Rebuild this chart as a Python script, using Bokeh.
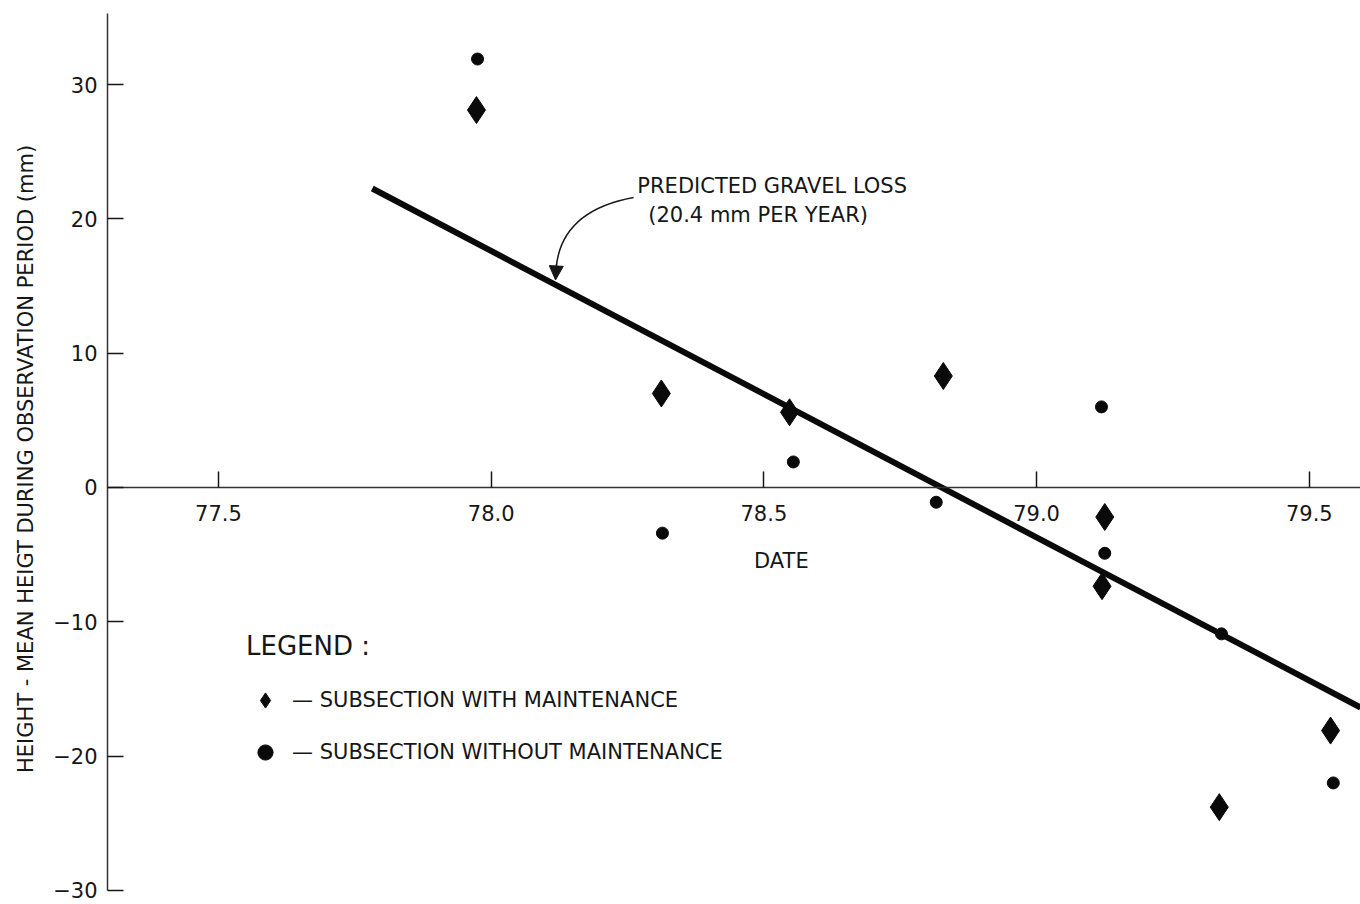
from bokeh.plotting import figure
from bokeh.models import (Range1d, FixedTicker, PrintfTickFormatter, Legend, LegendItem,
                          Label, Arrow, NormalHead)
from bokeh.embed import file_html
from bokeh.resources import INLINE

# ---- data ----
date_with = [77.973, 78.312, 78.547, 78.829, 79.125, 79.120, 79.335, 79.539]
height_with = [28.1, 7.0, 5.6, 8.3, -2.2, -7.35, -23.8, -18.1]

date_without = [77.975, 78.314, 78.554, 78.816, 79.119, 79.125, 79.339, 79.544]
height_without = [31.9, -3.4, 1.9, -1.1, 6.0, -4.9, -10.9, -22.0]

fit_date = [77.782, 79.594]
fit_height = [22.26, -16.38]

x_ticks = [77.5, 78.0, 78.5, 79.0, 79.5]
y_ticks = [-30, -20, -10, 0, 10, 20, 30]

FONT = "DejaVu Sans"
INK = "#161616"

p = figure(width=1360, height=904,
           x_range=Range1d(77.2965, 79.5939), y_range=Range1d(-31.05, 35.29),
           output_backend="svg", toolbar_location=None,
           min_border_left=107, min_border_right=0, min_border_top=13, min_border_bottom=0)
p.outline_line_color = None
p.xgrid.visible = False
p.ygrid.visible = False
p.background_fill_color = "white"
p.border_fill_color = "white"

# x axis drawn at y = 0
xa = p.xaxis[0]
xa.fixed_location = 0
xa.ticker = FixedTicker(ticks=x_ticks)
xa.formatter = PrintfTickFormatter(format="%.1f")
xa.minor_tick_line_color = None
xa.major_tick_in = 16
xa.major_tick_out = 0
xa.major_tick_line_color = INK
xa.major_tick_line_width = 1.5
xa.axis_line_color = "#333333"
xa.axis_line_width = 1.5
xa.major_label_standoff = 18
xa.major_label_text_font = FONT
xa.major_label_text_font_size = "21px"
xa.major_label_text_color = INK

ya = p.yaxis[0]
ya.ticker = FixedTicker(ticks=y_ticks)
ya.bounds = (-30, 35.29)
ya.minor_tick_line_color = None
ya.major_tick_in = 16
ya.major_tick_out = 0
ya.major_tick_line_color = INK
ya.major_tick_line_width = 1.5
ya.axis_line_color = "#333333"
ya.axis_line_width = 1.5
ya.major_label_standoff = 10
ya.major_label_text_font = FONT
ya.major_label_text_font_size = "21px"
ya.major_label_text_color = INK
ya.axis_label = "HEIGHT - MEAN HEIGT DURING OBSERVATION PERIOD (mm)"
ya.axis_label_text_font = FONT
ya.axis_label_text_font_size = "21px"
ya.axis_label_text_font_style = "normal"
ya.axis_label_text_color = INK
ya.axis_label_standoff = 12

# x axis title
p.add_layout(Label(x=78.532, y=-5.45, text="DATE", text_font=FONT, text_font_size="21px",
                   text_color=INK, text_align="center", text_baseline="middle"))

# regression line
p.line(fit_date, fit_height, line_width=6, line_color="#0a0a0a")

# data points
r_with = p.scatter(date_with, height_with, marker="diamond", size=27,
                   fill_color="#0a0a0a", line_color="#0a0a0a")
r_without = p.scatter(date_without, height_without, marker="circle", size=12,
                      fill_color="#0a0a0a", line_color="#0a0a0a")

# annotation with curved leader
p.quadratic(x0=[78.261], y0=[21.59], x1=[78.119], y1=[16.3], cx=[78.128], cy=[20.6],
            line_color=INK, line_width=1.5)
p.add_layout(Arrow(end=NormalHead(size=14, fill_color=INK, line_color=INK),
                   x_start=78.1195, y_start=16.6, x_end=78.118, y_end=15.45,
                   line_color=INK, line_width=1.5))
p.add_layout(Label(x=78.268, y=22.41, text="PREDICTED GRAVEL LOSS",
                   text_font=FONT, text_font_size="21px", text_color=INK,
                   text_baseline="middle", text_align="left"))
p.add_layout(Label(x=78.288, y=20.25, text="(20.4 mm PER YEAR)",
                   text_font=FONT, text_font_size="21px", text_color=INK,
                   text_baseline="middle", text_align="left"))

# legend
legend = Legend(items=[LegendItem(label="— SUBSECTION WITH MAINTENANCE", renderers=[r_with]),
                       LegendItem(label="— SUBSECTION WITHOUT MAINTENANCE", renderers=[r_without])],
                location=(139, 133), orientation="vertical",
                title="LEGEND :", title_text_font=FONT, title_text_font_size="26px",
                title_text_font_style="normal", title_text_color=INK, title_standoff=20,
                label_text_font=FONT, label_text_font_size="21px", label_text_color=INK,
                glyph_width=38, glyph_height=38, label_standoff=8, spacing=14,
                padding=0, margin=0, border_line_color=None, background_fill_alpha=0)
p.add_layout(legend, "center")

open("out.html", "w").write(file_html(p, INLINE))
